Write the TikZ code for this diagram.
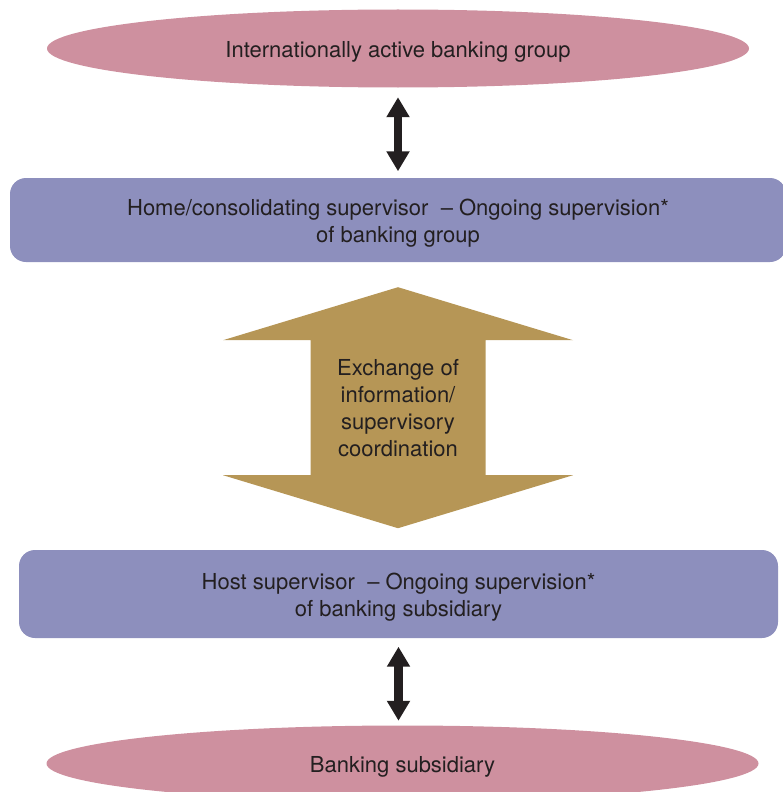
\documentclass[tikz,border=0pt]{standalone}
\usepackage{fontspec}
\setmainfont{TeX Gyre Heros}
\usetikzlibrary{positioning,calc,arrows.meta,shapes.geometric}
\definecolor{grppink}{RGB}{206,144,159}
\definecolor{supblue}{RGB}{141,143,189}
\definecolor{xchgold}{RGB}{182,150,86}
\definecolor{inkgray}{RGB}{35,31,32}
\tikzset{
	%Styles of the nodes: banks are ellipses, supervisors are rounded boxes
	bank/.style = {ellipse, fill=grppink, text=inkgray,
                           minimum width=702pt, minimum height=78pt,
                           text height=21.5pt, text depth=4.5pt,
                           font=\fontsize{22}{27}\selectfont},
	superv/.style = {rectangle, rounded corners=16pt, fill=supblue,
                           text=inkgray, align=center,
                           text height=48.5pt, text depth=4.5pt,
                           font=\fontsize{22}{27}\selectfont},
	exch/.style = {text=inkgray, align=center,
                           font=\fontsize{22}{27}\selectfont},
	link/.style = {draw=inkgray, line width=8.4pt,
                           {Triangle[width=22pt,length=20pt]}-{Triangle[width=22pt,length=20pt]}}
}

\begin{document}
\begin{tikzpicture}[x=1pt,y=-1pt]
		\clip (0,0) rectangle (783,792);
		\node (grp)  [bank]                                               at (398,48.5)  {Internationally active banking group};
		\node (home) [superv, minimum width=776pt, minimum height=84pt] at (398,220)   {Home/consolidating supervisor~ – Ongoing supervision*\\of banking group};
		\node (host) [superv, minimum width=759pt, minimum height=88pt] at (398.5,594) {Host supervisor~ – Ongoing supervision*\\of banking subsidiary};
		\node (sub)  [bank, minimum width=712pt, minimum height=76pt]   at (402.5,763.5) {Banking subsidiary};
		
		\draw[link, shorten <=9.5pt, shorten >=6.5pt] (grp.south) -- (grp.south |- home.north);
		\draw[link, shorten <=8.5pt, shorten >=4.5pt] (host.south) -- (host.south |- sub.north);
		
		% big two-way arrow between the supervisors
		\fill[xchgold] ($(home.south)+(0,25)$) coordinate (xtop)
			-- ++(175,53) -- ++(-87.5,0) -- ++(0,135) -- ++(87.5,0)
			-- ++(-175,53) -- ++(-175,-53) -- ++(87.5,0) -- ++(0,-135) -- ++(-87.5,0) -- cycle;
		\node (xchg) [exch] at ($(xtop)+(0,120.5)$) {Exchange of\\information/\\supervisory\\coordination};
	\end{tikzpicture}
\end{document}
